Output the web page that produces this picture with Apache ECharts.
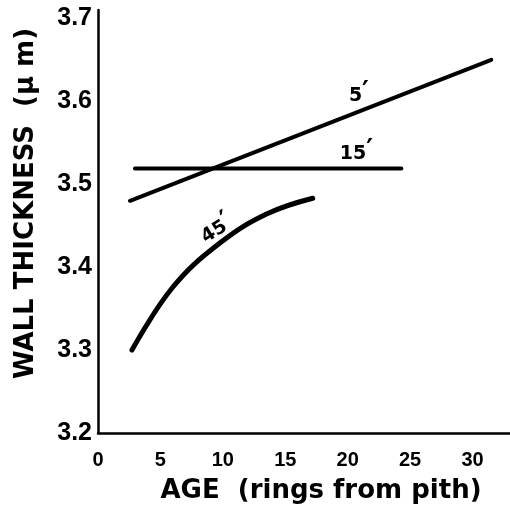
<!DOCTYPE html>
<html><head><meta charset="utf-8">
<script src="https://cdn.jsdelivr.net/npm/echarts@6/dist/echarts.min.js"></script>
<style>html,body{margin:0;padding:0;background:#fff}#c{width:510px;height:509px}</style>
</head><body><div id="c"></div>
<script>
// Data
const xTicks = [0, 5, 10, 15, 20, 25, 30];
const yTicks = [3.2, 3.3, 3.4, 3.5, 3.6, 3.7];
const line5 = [[2.56, 3.480], [31.5, 3.650]];
const line15 = [[2.96, 3.519], [24.3, 3.519]];
const line45 = [[2.72, 3.300], [6.0, 3.376], [9.76, 3.429], [13.5, 3.464], [17.2, 3.483]];
const labels5 = { num: "5", at: [20.9, 3.610] };
const labels15 = { num: "15", at: [20.7, 3.540] };
const labels45 = { num: "45", at: [9.4, 3.448] };

const TICKFONT = '"Liberation Sans", Arial, sans-serif';
const TITLEFONT = '"DejaVu Sans", sans-serif';
const chart = echarts.init(document.getElementById('c'));
function lineSeries(data, lab, smooth, width, rot) {
  return {
    type: 'line', data: data, smooth: smooth, symbol: 'none',
    lineStyle: { color: '#000', width: width, cap: 'round' },
    silent: true,
    markPoint: {
      symbol: 'circle', symbolSize: 0,
      data: [{ coord: lab.at, value: lab.num }],
      label: {
        show: true, position: 'inside', rotate: rot || 0,
        formatter: '{n|' + lab.num + '}{p|\u2032}',
        rich: {
          n: { color: '#000', fontFamily: TITLEFONT, fontWeight: 'bold', fontSize: 19, verticalAlign: 'bottom' },
          p: { color: '#000', fontFamily: TITLEFONT, fontWeight: 'bold', fontSize: 26, verticalAlign: 'bottom' }
        }
      }
    }
  };
}
chart.setOption({
  animation: false,
  grid: { left: 98, right: 0, top: 10, bottom: 76, containLabel: false, outerBoundsMode: 'none' },
  xAxis: {
    type: 'value', min: 0, max: 33, interval: 5,
    name: 'AGE  (rings from pith)', nameLocation: 'middle', nameGap: 45,
    nameTextStyle: { color: '#000', fontFamily: TITLEFONT, fontWeight: 'bold', fontSize: 26, padding: [0, 0, 0, 34] },
    axisLine: { lineStyle: { color: '#000', width: 2.5 } },
    axisTick: { show: false }, splitLine: { show: false },
    axisLabel: { color: '#000', fontFamily: TICKFONT, fontWeight: 'bold', fontSize: 20, margin: 17,
      formatter: v => xTicks.includes(Math.round(v * 100) / 100) ? String(v) : '' }
  },
  yAxis: {
    type: 'value', min: 3.2, max: 3.71, interval: 0.1,
    name: 'WALL THICKNESS  (\u03bc m)', nameLocation: 'middle', nameGap: 59, nameRotate: 90,
    nameTextStyle: { color: '#000', fontFamily: TITLEFONT, fontWeight: 'bold', fontSize: 26, padding: [0, 0, 0, 36] },
    axisLine: { lineStyle: { color: '#000', width: 2.5 } },
    axisTick: { show: false }, splitLine: { show: false },
    axisLabel: { color: '#000', fontFamily: TICKFONT, fontWeight: 'bold', fontSize: 25, margin: 6,
      formatter: v => { const r = Math.round(v * 10) / 10; return (Math.abs(r - v) < 1e-6 && yTicks.includes(r)) ? r.toFixed(1) : ''; } }
  },
  series: [
    lineSeries(line5, labels5, false, 4),
    lineSeries(line15, labels15, false, 4),
    lineSeries(line45, labels45, 0.4, 5, 32)
  ]
});
</script></body></html>
